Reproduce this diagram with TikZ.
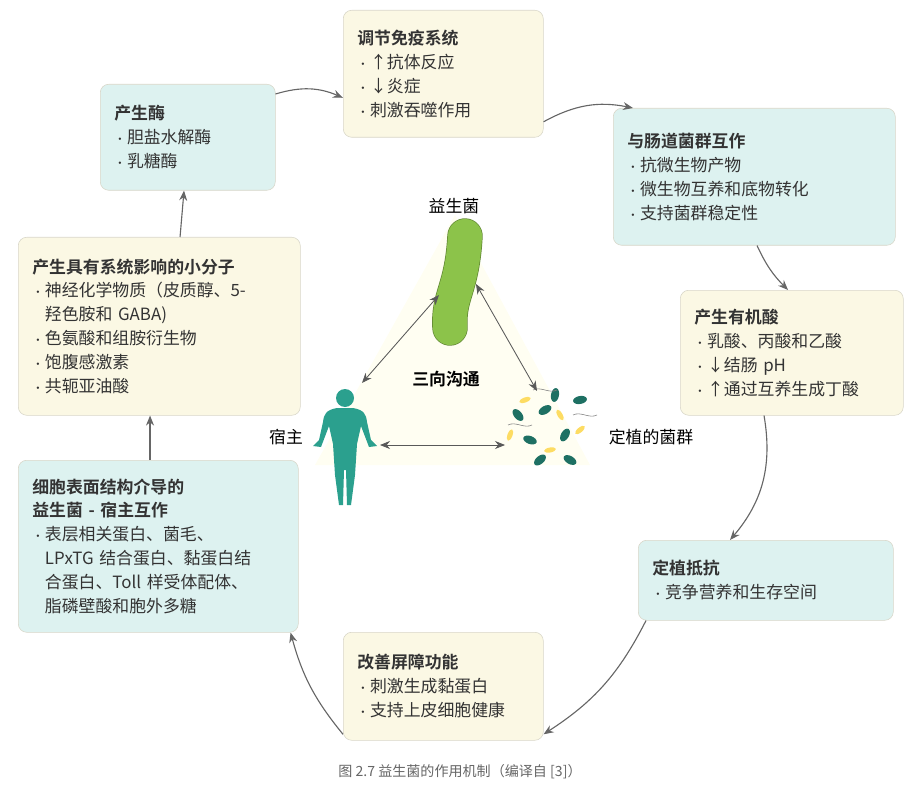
\documentclass[tikz,border=0pt]{standalone}
\usepackage{fontspec}
\setmainfont{Noto Sans CJK SC}[BoldFont={Noto Sans CJK SC Bold}]
\usetikzlibrary{arrows.meta,positioning}
\definecolor{boxy}{HTML}{FBF8E4}
\definecolor{boxc}{HTML}{DDF2F0}
\definecolor{edge}{HTML}{D8D6C8}
\definecolor{txt}{HTML}{333333}
\definecolor{bug}{HTML}{8CC34A}
\definecolor{man}{HTML}{2BA08E}
\tikzset{>={Stealth[width=2mm,length=2.5mm]}}
\tikzset{ybox/.style={draw=edge, fill=boxy, rounded corners=6pt, anchor=north west,
    align=left, inner xsep=10pt, inner ysep=8pt, font=\fontsize{12}{17}\selectfont, text=txt}}
\tikzset{cbox/.style={ybox, fill=boxc}}
\tikzset{cycle/.style={->, draw=gray!80!black, thick}}
\tikzset{talk/.style={<->, draw=gray!70!black, semithick}}
\newcommand{\hd}[1]{\textbf{#1}}
\newcommand{\bl}{\makebox[0.75em][l]{\footnotesize •}}
\newcommand{\ind}{\hspace*{0.75em}}

\begin{document}
\begin{tikzpicture}[x=0.025cm, y=-0.025cm]
    \useasboundingbox (0,0) rectangle (919,800);
    \fill[yellow!5] (455,215) -- (315,465) -- (590,465) -- cycle;

    \node(immune)[ybox, text width=200*0.025cm-20pt, minimum height=127*0.025cm] at (343,10)
        {\hd{调节免疫系统}\\ \bl{}↑抗体反应\\ \bl{}↓炎症\\ \bl{}刺激吞噬作用};
    \node(flora)[cbox, text width=282*0.025cm-20pt, minimum height=137*0.025cm] at (613,108)
        {\hd{与肠道菌群互作}\\ \bl{}抗微生物产物\\ \bl{}微生物互养和底物转化\\ \bl{}支持菌群稳定性};
    \node(acid)[ybox, text width=223*0.025cm-20pt, minimum height=125*0.025cm] at (680,290)
        {\hd{产生有机酸}\\ \bl{}乳酸、丙酸和乙酸\\ \bl{}↓结肠 pH\\ \bl{}↑通过互养生成丁酸};
    \node(resist)[cbox, text width=255*0.025cm-20pt, minimum height=80*0.025cm] at (638,540)
        {\hd{定植抵抗}\\ \bl{}竞争营养和生存空间};
    \node(barrier)[ybox, text width=200*0.025cm-20pt, minimum height=108*0.025cm] at (343,632)
        {\hd{改善屏障功能}\\ \bl{}刺激生成黏蛋白\\ \bl{}支持上皮细胞健康};
    \node(surface)[cbox, text width=280*0.025cm-20pt, minimum height=172*0.025cm] at (18,460)
        {\hd{细胞表面结构介导的}\\ \hd{益生菌 - 宿主互作}\\ \bl{}表层相关蛋白、菌毛、\\ \ind{}LPxTG 结合蛋白、黏蛋白结\\ \ind{}合蛋白、Toll 样受体配体、\\ \ind{}脂磷壁酸和胞外多糖};
    \node(small)[ybox, text width=282*0.025cm-20pt, minimum height=178*0.025cm] at (18,237)
        {\hd{产生具有系统影响的小分子}\\ \bl{}神经化学物质（皮质醇、5-\\ \ind{}羟色胺和 GABA)\\ \bl{}色氨酸和组胺衍生物\\ \bl{}饱腹感激素\\ \bl{}共轭亚油酸};
    \node(enzyme)[cbox, text width=175*0.025cm-20pt, minimum height=106*0.025cm] at (100,84)
        {\hd{产生酶}\\ \bl{}胆盐水解酶\\ \bl{}乳糖酶};

    \draw[cycle] (enzyme.north east) ++(0,10) to [bend left=20] ([yshift=-0.6cm]immune.west);
    \draw[cycle] ([yshift=-1.2cm]immune.east) to [bend left=20] ([xshift=0.5cm]flora.north west);
    \draw[cycle] ([xshift=3.6cm]flora.south west) to [bend right=10] ([xshift=2.7cm]acid.north west);
    \draw[cycle] ([xshift=2.1cm]acid.south west) to [bend left=25] ([xshift=2.3cm]resist.north west);
    \draw[cycle] ([xshift=0.2cm]resist.south west) to [bend left=15] ([yshift=-1.2cm]barrier.east);
    \draw[cycle] ([yshift=-1.2cm]barrier.west) to [bend left=12] ([xshift=-0.2cm]surface.south east);
    \draw[cycle] ([xshift=3.3cm]surface.north west) -- ([xshift=3.3cm]small.south west);
    \draw[cycle] ([xshift=4.05cm]small.north west) -- ([xshift=2.1cm]enzyme.south west);

    % probiotic
    \node(probio) at (455,282) {};
    \draw[bug!70!black, line width=34*0.025cm+1pt, line cap=round] (465,236) .. controls (462,290) and (448,295) .. (450,328);
    \draw[bug, line width=34*0.025cm, line cap=round] (465,236) .. controls (462,290) and (448,295) .. (450,328);
    \node(plabel) at (454,206) {\fontsize{12}{14}\selectfont 益生菌};
    \node(talk) at (446,379) {\fontsize{12}{14}\selectfont\bfseries 三向沟通};

    % host
    \node(host) at (345,445) {};
    \fill[man] (345,398) circle (9);
    \fill[man] (337,408) -- (353,408) .. controls (364,410) and (366,414) .. (367,422)
        -- (371,440) -- (377,446) -- (369,447) -- (361,426) -- (357,444) -- (355,475) -- (351,505)
        -- (347,505) -- (346,470) -- (344,470) -- (343,505) -- (339,505) -- (335,475) -- (333,444)
        -- (329,426) -- (321,447) -- (313,446) -- (319,440) -- (323,422) .. controls (324,414) and (326,410) .. (337,408) -- cycle;
    \node(hlabel) at (286,437) {\fontsize{12}{14}\selectfont 宿主};

    % resident flora
    \node(resident) at (545,425) {};
    \foreach \x/\y/\r in {545/410/30, 530/440/-20, 565/435/60, 580/400/10, 540/460/40, 518/415/-50, 570/460/-30, 555/395/80}
        \fill[man!70!black] (\x,\y) ellipse [x radius=7, y radius=4, rotate=\r];
    \foreach \x/\y/\r in {525/400/20, 560/415/-60, 580/430/40, 510/435/70, 550/450/10}
        \fill[yellow!60!orange!60] (\x,\y) ellipse [x radius=6, y radius=2.5, rotate=\r];
    \foreach \x/\y in {520/425, 545/390, 585/415}
        \draw[gray, thin] (\x-12,\y) .. controls (\x-4,\y-4) and (\x+4,\y+4) .. (\x+12,\y);
    \node(rlabel) at (651,437) {\fontsize{12}{14}\selectfont 定植的菌群};

    \draw[talk] (439,295) -- (362,383);
    \draw[talk] (476,284) -- (537,391);
    \draw[talk] (380,445) -- (505,445);

    \node(caption) at (460,772) {\fontsize{10}{12}\selectfont\color{gray!80!black} 图 2.7 益生菌的作用机制（编译自 [3]）};
\end{tikzpicture}
\end{document}
